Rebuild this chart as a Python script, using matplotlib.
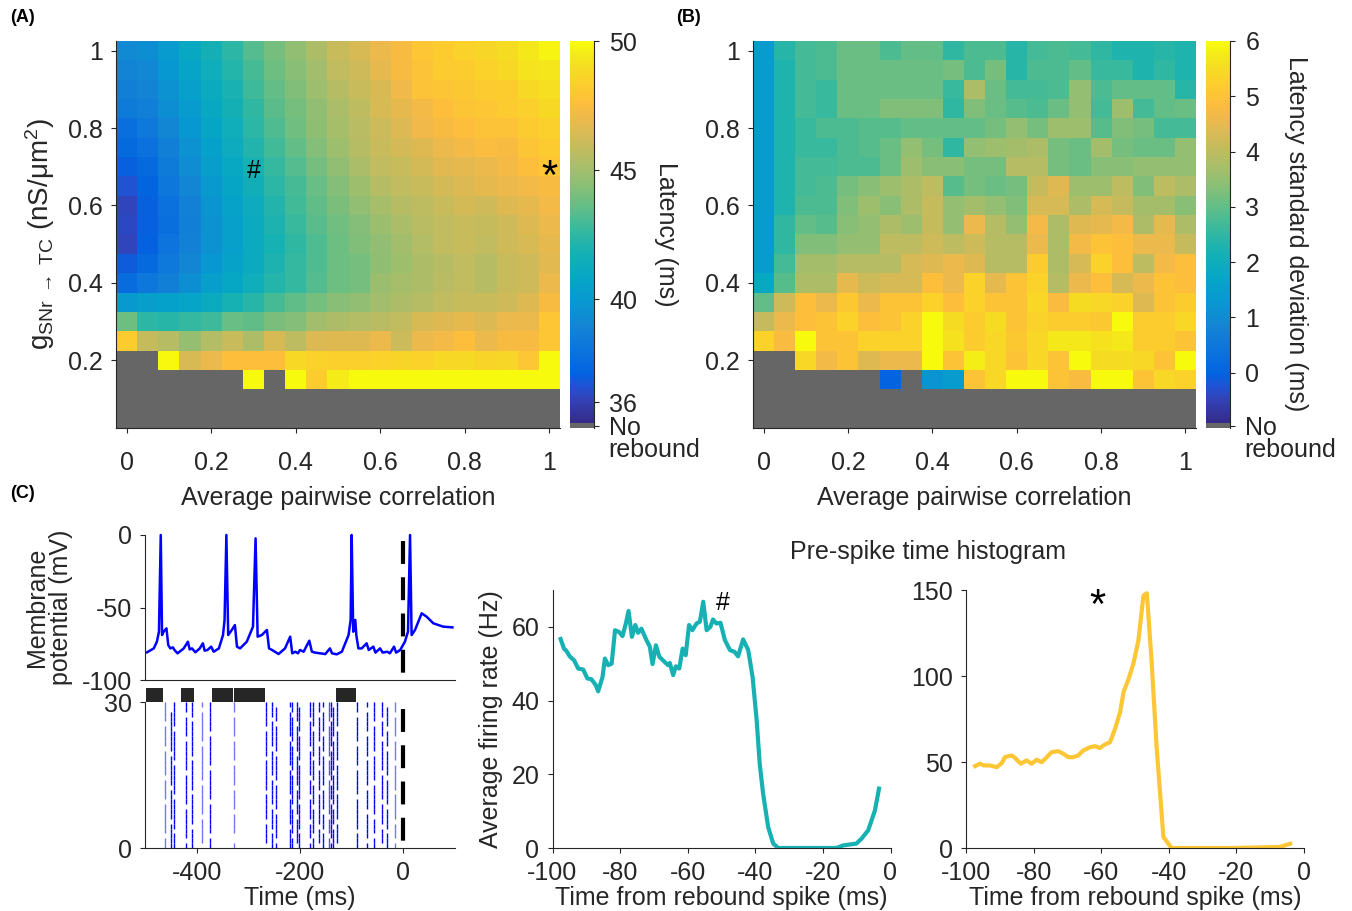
import numpy as np
import matplotlib
matplotlib.use("Agg")
import matplotlib.pyplot as plt
from matplotlib.colors import LinearSegmentedColormap, ListedColormap, Normalize

# --- Style ---
plt.rcParams['font.family'] = ['Liberation Sans', 'DejaVu Sans']
plt.rcParams['mathtext.fontset'] = 'custom'
plt.rcParams['mathtext.rm'] = 'Liberation Sans'
plt.rcParams['mathtext.it'] = 'Liberation Sans:italic'
plt.rcParams['mathtext.default'] = 'regular'
plt.rcParams['axes.unicode_minus'] = False
plt.rcParams['font.size'] = 18
INK = '#262626'
for key in ('axes.edgecolor', 'xtick.color', 'ytick.color', 'text.color', 'axes.labelcolor'):
    plt.rcParams[key] = INK
plt.rcParams['axes.linewidth'] = 0.8

nan = np.nan

# --- Parameter grid for the sweeps ---
corr_levels = [0.0, 0.05, 0.1, 0.15, 0.2, 0.25, 0.3, 0.35, 0.4, 0.45, 0.5,
               0.55, 0.6, 0.65, 0.7, 0.75, 0.8, 0.85, 0.9, 0.95, 1.0]
# rows listed from the strongest conductance down
g_levels = [1.0, 0.95, 0.9, 0.85, 0.8, 0.75, 0.7, 0.65, 0.6, 0.55, 0.5,
            0.45, 0.4, 0.35, 0.3, 0.25, 0.2, 0.15, 0.1, 0.05]

# mean rebound latency (ms), nan = no rebound
latency_ms = [
    [39.2, 39.4, 40.2, 41.0, 41.7, 42.4, 43.3, 44.0, 44.6, 45.3, 46.0, 46.4, 47.0, 47.4, 48.0, 48.3, 48.5, 48.7, 49.0, 49.4, 49.8],
    [38.9, 39.1, 39.9, 40.7, 41.5, 42.2, 43.0, 43.8, 44.4, 45.0, 45.8, 46.2, 46.8, 47.4, 47.8, 48.2, 48.3, 48.5, 48.8, 49.2, 49.3],
    [38.7, 38.9, 39.6, 40.4, 41.2, 41.9, 42.8, 43.6, 44.2, 44.9, 45.5, 46.0, 46.4, 47.1, 47.8, 47.9, 48.1, 48.2, 48.3, 48.8, 49.1],
    [38.4, 38.6, 39.4, 40.2, 41.0, 41.7, 42.5, 43.4, 44.0, 44.6, 45.2, 45.7, 46.4, 46.8, 47.2, 47.6, 47.9, 48.0, 48.2, 48.4, 48.8],
    [37.8, 38.3, 39.0, 39.9, 40.8, 41.5, 42.4, 43.2, 43.9, 44.5, 45.1, 45.6, 46.1, 46.5, 47.1, 47.4, 47.6, 47.8, 47.8, 48.2, 48.4],
    [37.5, 37.9, 38.7, 39.6, 40.5, 41.3, 42.1, 42.9, 43.6, 44.3, 44.9, 45.5, 46.0, 46.3, 46.6, 47.0, 47.3, 47.5, 47.4, 47.9, 48.2],
    [37.0, 37.5, 38.4, 39.3, 40.3, 41.0, 41.8, 42.6, 43.3, 44.0, 44.6, 45.2, 45.8, 46.0, 46.3, 46.7, 46.8, 47.0, 47.3, 47.6, 48.0],
    [36.6, 37.2, 38.2, 39.0, 40.0, 40.8, 41.6, 42.4, 43.0, 43.7, 44.3, 44.9, 45.5, 45.8, 46.0, 46.3, 46.5, 46.8, 47.0, 47.2, 47.4],
    [36.2, 37.0, 37.9, 38.8, 39.8, 40.6, 41.3, 42.1, 42.9, 43.5, 44.1, 44.6, 45.1, 45.5, 45.7, 46.0, 46.3, 46.2, 46.6, 46.8, 47.2],
    [36.3, 37.0, 37.8, 38.7, 39.6, 40.4, 41.2, 42.0, 42.7, 43.4, 43.9, 44.3, 44.8, 45.2, 45.6, 45.8, 46.0, 45.9, 46.2, 46.6, 47.0],
    [36.2, 37.1, 38.0, 38.8, 39.6, 40.4, 41.2, 41.8, 42.5, 43.2, 43.8, 44.2, 44.6, 45.0, 45.4, 45.8, 46.0, 45.8, 46.2, 46.4, 46.8],
    [36.9, 37.5, 38.3, 39.0, 39.9, 40.6, 41.2, 42.0, 42.6, 43.2, 43.8, 44.0, 44.5, 44.9, 45.3, 45.5, 45.8, 45.5, 46.0, 46.2, 46.7],
    [37.6, 38.2, 38.7, 39.4, 40.3, 40.9, 41.5, 42.2, 42.6, 43.3, 43.8, 44.0, 44.8, 45.1, 45.3, 45.6, 45.8, 45.5, 46.0, 46.2, 47.0],
    [40.0, 40.3, 40.5, 40.7, 41.2, 41.8, 42.3, 43.0, 43.5, 44.0, 44.4, 44.6, 45.0, 45.3, 45.5, 45.8, 46.0, 46.0, 46.2, 46.6, 47.4],
    [43.8, 42.4, 42.3, 42.6, 42.8, 43.7, 43.5, 44.1, 44.3, 45.0, 45.3, 45.4, 45.6, 45.8, 46.4, 46.6, 46.8, 46.5, 47.0, 47.0, 48.0],
    [48.3, 45.9, 45.5, 44.7, 45.4, 46.0, 45.3, 46.4, 45.7, 46.5, 46.6, 46.6, 47.0, 46.1, 47.0, 47.2, 47.7, 47.0, 47.4, 47.4, 48.0],
    [nan, nan, 49.9, 46.4, 47.0, 47.7, 47.7, 47.7, 48.8, 48.5, 48.4, 48.4, 48.5, 48.6, 48.5, 48.8, 48.8, 48.6, 48.7, 48.0, 50.0],
    [nan, nan, nan, nan, nan, nan, 50.0, nan, 50.0, 48.3, 49.5, 50.0, 50.0, 50.0, 50.0, 50.0, 50.0, 50.0, 50.0, 50.0, 50.0],
    [nan] * 21,
    [nan] * 21,
]

# standard deviation of the latency (ms), nan = no rebound
latency_sd_ms = [
    [1.4, 2.4, 2.7, 2.8, 3.1, 3.1, 2.8, 3.0, 3.0, 2.5, 2.8, 2.8, 2.4, 2.7, 2.8, 2.7, 2.5, 2.3, 2.3, 2.4, 2.3],
    [1.4, 2.3, 2.7, 2.8, 3.1, 3.1, 3.1, 3.1, 3.1, 3.2, 2.8, 3.2, 2.4, 2.8, 2.8, 3.0, 2.6, 2.6, 2.3, 2.5, 2.3],
    [1.4, 2.3, 2.7, 2.6, 3.1, 3.1, 3.1, 3.1, 3.1, 2.6, 3.8, 3.1, 2.7, 2.7, 2.8, 3.5, 2.8, 3.0, 3.0, 3.0, 2.4],
    [1.4, 2.3, 2.7, 2.6, 3.1, 3.1, 3.3, 3.3, 3.3, 2.5, 3.3, 3.1, 2.9, 2.8, 3.1, 3.5, 2.7, 3.6, 2.7, 3.0, 3.1],
    [1.4, 2.3, 2.6, 2.8, 2.8, 2.9, 2.9, 3.0, 3.0, 3.0, 3.0, 3.2, 3.5, 3.2, 3.6, 3.6, 2.9, 3.3, 3.2, 2.7, 2.7],
    [1.4, 2.3, 2.6, 2.6, 2.8, 2.9, 3.1, 3.5, 3.2, 2.5, 3.5, 3.6, 3.7, 3.8, 3.2, 3.1, 3.7, 3.2, 3.1, 3.1, 3.5],
    [1.4, 2.3, 2.7, 2.7, 2.8, 2.8, 3.1, 3.6, 3.4, 3.4, 3.2, 3.2, 3.9, 3.9, 3.2, 3.1, 3.4, 3.4, 3.5, 3.5, 3.5],
    [1.4, 2.3, 2.7, 2.8, 3.2, 3.4, 3.6, 3.8, 4.0, 2.9, 3.2, 3.1, 3.2, 4.1, 4.4, 3.6, 3.6, 4.0, 3.3, 4.0, 3.8],
    [1.4, 2.3, 2.8, 2.8, 3.3, 3.6, 3.4, 3.8, 4.1, 3.5, 3.7, 3.5, 3.3, 4.3, 4.3, 3.8, 4.3, 4.1, 3.7, 3.7, 3.4],
    [1.4, 2.5, 3.0, 2.9, 3.4, 3.5, 3.8, 3.6, 4.1, 3.5, 4.6, 3.9, 3.5, 4.7, 3.8, 4.4, 4.5, 4.7, 3.8, 4.5, 3.8],
    [1.4, 2.5, 3.3, 3.3, 3.5, 3.5, 4.0, 4.0, 4.2, 4.0, 4.2, 3.9, 3.9, 4.6, 3.8, 4.7, 5.0, 4.9, 4.6, 4.6, 4.1],
    [1.4, 2.7, 3.7, 3.7, 3.9, 3.9, 3.9, 4.3, 4.4, 4.6, 4.4, 3.9, 3.9, 5.2, 3.8, 4.3, 5.3, 4.9, 4.0, 4.7, 4.9],
    [1.8, 2.9, 3.8, 3.8, 4.5, 4.2, 4.3, 4.3, 4.9, 4.6, 5.3, 4.5, 5.0, 5.3, 3.9, 4.6, 4.9, 4.3, 4.6, 5.0, 4.9],
    [3.0, 4.2, 4.9, 4.6, 5.1, 4.6, 5.0, 5.0, 5.3, 4.9, 5.3, 5.0, 5.0, 5.4, 4.8, 5.5, 5.4, 5.3, 4.4, 5.0, 5.2],
    [4.1, 4.6, 4.9, 5.0, 5.3, 4.9, 5.0, 5.3, 6.0, 5.5, 5.2, 5.5, 5.0, 5.3, 5.2, 5.2, 5.1, 6.0, 5.2, 5.2, 5.4],
    [5.3, 4.8, 6.0, 5.0, 5.0, 5.3, 5.3, 5.3, 6.0, 5.6, 5.2, 5.4, 5.1, 5.4, 5.7, 5.7, 5.6, 5.7, 5.2, 5.2, 5.0],
    [nan, nan, 5.4, 4.7, 5.0, 4.4, 4.6, 4.6, 6.0, 5.0, 5.8, 5.4, 5.0, 5.4, 5.0, 6.0, 5.5, 5.5, 5.4, 5.0, 6.0],
    [nan, nan, nan, nan, nan, nan, 0.0, nan, 1.2, 1.4, 5.0, 5.4, 6.0, 6.0, 5.0, 4.8, 6.0, 6.0, 5.0, 5.4, 5.3],
    [nan] * 21,
    [nan] * 21,
]

latency_lim = (35, 50)
latency_ticks = [36, 40, 45, 50]
sd_lim = (-1, 6)
sd_ticks = [0, 1, 2, 3, 4, 5, 6]

# example cells marked on the map
hash_cell = (0.3, 0.7)
star_cell = (1.0, 0.7)

# --- Example TC membrane potential (ms, mV) ---
vm_t = [-496, -483, -477, -473, -469.5, -467, -464, -458.5, -455, -451, -446, -443, -437,
        -425, -417, -413.5, -409, -402.5, -394, -388, -384.5, -379, -372, -367, -357,
        -349, -346, -342.5, -339, -332, -326, -322, -316, -303, -291, -286, -282, -274,
        -264, -260, -254, -241.5, -229, -219, -215, -209, -204, -200, -193, -182, -177,
        -171, -161, -151, -142, -138, -129, -119, -106, -102, -100, -97, -93, -91, -87,
        -80.5, -71, -67, -58, -54, -45, -40, -31, -26, -18, -14, -6, 3, 9, 13, 16, 22.6,
        35.5, 45, 58, 77, 95]
vm_mv = [-80.9, -78.2, -73.6, -66.7, 0.0, -69.0, -66.7, -64.4, -75.9, -78.2, -77.5, -79.3, -81.6,
         -78.2, -73.6, -78.9, -78.2, -80.9, -78.2, -74.7, -79.8, -79.3, -77.0, -80.5, -78.2,
         -69.0, -58.6, 0.0, -69.0, -65.5, -62.1, -77.0, -78.2, -73.6, -63.2, -2.3, -70.1, -69.0,
         -65.5, -78.2, -79.3, -82.1, -78.2, -70.1, -81.6, -80.5, -81.6, -79.3, -80.5, -72.9, -80.5,
         -81.1, -81.6, -82.1, -78.2, -81.6, -82.3, -80.5, -69.0, -58.6, 0.0, -66.7, -58.6, -69.0, -78.2,
         -78.2, -74.7, -79.3, -77.0, -81.1, -78.2, -81.1, -80.5, -81.6, -77.0, -81.1, -79.3, -73.6, -66.7,
         0.0, -69.0, -65.5, -54.0, -56.3, -60.9, -63.2, -63.7]

# --- SNr raster: spike times (ms) and the neurons (0-29) silent at each ---
spike_times = [-462, -449, -443, -420, -409, -390, -374, -328, -265, -254, -247, -219, -216,
               -206, -202, -180, -174, -164, -156, -143, -140, -136, -129, -90, -71, -57,
               -42, -32, -16]
silent_rows = [[2, 9, 14, 20, 25], [5, 12, 19, 28, 29], [3, 10, 17, 24], [1, 8, 15, 22, 27],
               [4, 11, 18, 26], [0, 6, 13, 21, 28], [2, 9, 16, 23], [1, 2, 7, 12, 17, 22, 27],
               [0, 5, 11, 18, 24], [3, 8, 14, 20, 26], [1, 7, 13, 19, 25, 29], [4, 10, 16, 22, 28],
               [2, 8, 15, 21, 27], [0, 6, 12, 19, 25], [3, 9, 17, 23, 29], [1, 5, 10, 14, 20, 26],
               [2, 8, 13, 18, 24], [0, 4, 11, 16, 21, 27], [3, 7, 12, 19, 23, 28], [2, 6, 14, 18, 25],
               [1, 9, 13, 20, 26], [4, 8, 15, 22, 29], [0, 5, 11, 17, 24], [3, 10, 16, 21, 27],
               [1, 7, 12, 18, 23, 28], [2, 6, 13, 19, 25], [0, 4, 9, 15, 22, 26],
               [3, 8, 14, 20, 24, 29], [1, 5, 11, 17, 22, 27]]
spike_alpha = [0.55, 1, 1, 1, 1, 0.55, 1, 0.55, 1, 1, 1, 1, 1, 1, 1, 1, 1, 1, 1, 0.7, 1, 1, 1,
               1, 1, 1, 1, 1, 0.55]
n_neurons = 30

# periods marked above the raster (ms)
bar_start = [-499, -430, -371, -327, -131]
bar_end = [-465, -405, -330, -267, -92]

# --- Pre-spike time histograms (ms before rebound, Hz) ---
hist_hash_t = [-97.6, -96.6, -95.9, -94.9, -93.6, -92.4, -90.9, -89.7, -88.5, -87.2, -86.5,
               -85.2, -84.5, -83.5, -82.5, -81.5, -80.3, -79.3, -78.3, -77.5, -76.5, -75.5,
               -74.7, -73.7, -72.2, -71.2, -70.4, -69.4, -68.4, -67.3, -65.8, -65.3, -64.3,
               -63.5, -62.5, -61.5, -60.6, -59.6, -58.6, -57.4, -56.4, -55.4, -54.4, -53.3,
               -52.5, -51.5, -50.3, -49.0, -47.5, -46.1, -45.1, -43.6, -42.1, -40.8, -39.6,
               -38.7, -37.7, -36.2, -34.7, -33.2, -25.8, -16.0, -14.0, -10.1, -8.6, -6.6,
               -4.6, -3.4]
hist_hash_hz = [56.7, 54.1, 53.5, 52.0, 50.9, 48.7, 48.4, 46.0, 45.8, 44.2, 42.5,
                46.4, 51.4, 49.6, 50.0, 59.1, 58.6, 57.5, 60.9, 64.3, 57.3, 60.5,
                58.4, 59.5, 56.4, 54.6, 49.9, 55.0, 51.9, 50.9, 49.6, 50.2, 46.9,
                49.3, 48.7, 54.1, 52.3, 60.5, 59.1, 60.9, 61.4, 66.8, 59.1, 60.0,
                62.0, 60.9, 61.1, 56.4, 53.7, 53.2, 52.0, 56.6, 53.7, 46.4, 34.7,
                22.9, 14.8, 5.7, 1.2, 0.0, 0.0, 0.0, 0.7, 1.2, 2.5, 4.8,
                10.2, 16.1]

hist_star_t = [-97.3, -95.9, -94.7, -92.9, -90.9, -89.4, -88.5, -86.5, -85.5, -83.8, -82.1,
               -80.6, -79.1, -77.6, -76.1, -74.7, -72.7, -71.2, -69.7, -68.2, -66.8, -65.3,
               -63.3, -61.8, -60.4, -58.9, -57.4, -55.9, -54.4, -53.4, -51.9, -50.5, -49.0,
               -47.5, -46.5, -45.1, -43.6, -41.6, -39.2, -20.9, -7.1, -4.1]
hist_star_hz = [47.6, 49.0, 48.0, 48.0, 47.0, 49.4, 52.8, 53.8, 52.4, 49.0, 50.9,
                49.0, 51.3, 49.9, 52.8, 55.7, 56.3, 54.8, 52.8, 52.8, 53.8, 56.7,
                58.6, 59.2, 58.1, 60.2, 61.5, 69.3, 79.0, 90.6, 98.3, 107.0, 120.6,
                146.7, 148.1, 109.0, 58.6, 6.4, 0.0, 0.0, 0.6, 2.5]


# --- Colormaps: parula with a grey slot for "no rebound" ---
parula_idx = [0, 4, 6, 8, 12, 16, 20, 24, 28, 32, 36, 40, 44, 48, 51, 53, 56, 59, 61, 63]
parula_rgb = [(0.2081, 0.1663, 0.5292), (0.1959, 0.2645, 0.7279), (0.1253, 0.3242, 0.8303),
              (0.0117, 0.3875, 0.8820), (0.0498, 0.4586, 0.8641), (0.0793, 0.5200, 0.8312),
              (0.0343, 0.5966, 0.8199), (0.0228, 0.6535, 0.7768), (0.0843, 0.6928, 0.7062),
              (0.2178, 0.7250, 0.6193), (0.3953, 0.7459, 0.5244), (0.5709, 0.7485, 0.4494),
              (0.7184, 0.7411, 0.3905), (0.8507, 0.7299, 0.3360), (0.9450, 0.7261, 0.2886),
              (0.9938, 0.7455, 0.2403), (0.9880, 0.8066, 0.1794), (0.9626, 0.8705, 0.1309),
              (0.9598, 0.9218, 0.0948), (0.9763, 0.9831, 0.0538)]
parula = LinearSegmentedColormap.from_list(
    'parula', [(i / 63, c) for i, c in zip(parula_idx, parula_rgb)], N=256)

N_COL, N_GREY = 256, 3
NO_REBOUND_GREY = (0.4, 0.4, 0.4, 1.0)
cmap_map = ListedColormap(np.vstack([np.tile(NO_REBOUND_GREY, (N_GREY, 1)),
                                     parula(np.linspace(0, 1, N_COL - N_GREY))]))


def style(ax, xpad=5.5, ypad=6):
    ax.spines['top'].set_visible(False)
    ax.spines['right'].set_visible(False)
    ax.tick_params(direction='out', length=3.5, width=0.8, labelsize=18)
    ax.tick_params(axis='x', pad=xpad)
    ax.tick_params(axis='y', pad=ypad)


def heatmap(ax, cax, values, lim, ticks):
    vals = np.array(values, dtype=float)
    vals = np.where(np.isnan(vals), lim[0], vals)  # no rebound -> grey slot
    dc = (corr_levels[1] - corr_levels[0]) / 2
    dg = (g_levels[0] - g_levels[1]) / 2
    im = ax.imshow(vals, cmap=cmap_map, vmin=lim[0], vmax=lim[1], origin='upper',
                   extent=[corr_levels[0] - dc, corr_levels[-1] + dc,
                           g_levels[-1] - dg, g_levels[0] + dg],
                   aspect='auto', interpolation='nearest')
    style(ax, xpad=13)
    ax.set_xticks([0, 0.2, 0.4, 0.6, 0.8, 1.0])
    ax.set_xticklabels(['0', '0.2', '0.4', '0.6', '0.8', '1'])
    ax.set_yticks([0.2, 0.4, 0.6, 0.8, 1.0])
    ax.set_yticklabels(['0.2', '0.4', '0.6', '0.8', '1'])
    ax.set_xlabel('Average pairwise correlation', labelpad=8)

    cb = plt.colorbar(im, cax=cax)
    cb.outline.set_visible(False)
    grey_pos = lim[0] + (N_GREY / 2) / N_COL * (lim[1] - lim[0])
    cb.set_ticks([grey_pos] + ticks)
    cb.set_ticklabels(['No'] + [str(t) for t in ticks])
    cax.tick_params(direction='out', length=3.5, width=0.8, pad=7.5, labelsize=18)
    cax.plot([1, 1], [0, 1], transform=cax.transAxes, color=INK, lw=0.8, clip_on=False)
    cax.annotate('rebound', xy=(1, grey_pos), xycoords=('axes fraction', 'data'),
                 xytext=(10.5, -17.5), textcoords='offset points', ha='left', va='center')
    return im


fig = plt.figure(figsize=(13.52, 9.11), dpi=100)
W, H = 1352, 911


def px_axes(left, top, right, bottom):
    return fig.add_axes([left / W, 1 - bottom / H, (right - left) / W, (bottom - top) / H])


# --- (A) latency map ---
axA = px_axes(116, 41, 560, 428)
caxA = px_axes(570, 41, 594, 428)
heatmap(axA, caxA, latency_ms, latency_lim, latency_ticks)
axA.set_ylabel('g$_{SNr\\ \\rightarrow\\ TC}$ (nS/\u03bcm$^{2}$)', labelpad=8, fontsize=20)
fig.text(666 / W, 1 - 234 / H, 'Latency (ms)', rotation=270, ha='center', va='center')
axA.text(hash_cell[0], hash_cell[1] - 0.012, '#', ha='center', va='center', fontsize=18, color='k')
axA.text(star_cell[0], star_cell[1] - 0.03, '*', ha='center', va='center', fontsize=30, color='k')

# --- (B) latency variability map ---
axB = px_axes(753, 41, 1196, 428)
caxB = px_axes(1206, 41, 1230, 428)
heatmap(axB, caxB, latency_sd_ms, sd_lim, sd_ticks)
fig.text(1296 / W, 1 - 234 / H, 'Latency standard deviation (ms)', rotation=270,
         ha='center', va='center')

# colours of the two marked cells, reused for their histograms
norm_lat = Normalize(*latency_lim)
lat_arr = np.array(latency_ms, dtype=float)
col_hash = cmap_map(norm_lat(lat_arr[g_levels.index(hash_cell[1]), corr_levels.index(hash_cell[0])]))
col_star = cmap_map(norm_lat(lat_arr[g_levels.index(star_cell[1]), corr_levels.index(star_cell[0])]))

# --- (C) membrane potential + raster ---
axV = px_axes(145, 535, 455, 680)
style(axV)
axV.plot(vm_t, vm_mv, color='blue', lw=1.8, solid_joinstyle='round', clip_on=False)
axV.plot([0, 0], [-4, -100], color='k', lw=3, ls=(0, (5.5, 3.2)))
axV.set_xlim(-500, 100)
axV.set_ylim(-100, 0)
axV.set_yticks([-100, -50, 0])
axV.set_xticks([])
axV.set_ylabel('Membrane\npotential (mV)', linespacing=1.0, labelpad=6)

axR = px_axes(145, 702, 455, 848)
style(axR)
for t, silent, a in zip(spike_times, silent_rows, spike_alpha):
    rows = np.array([k for k in range(n_neurons) if k not in silent])
    axR.vlines(np.full(len(rows), t), rows, rows + 1, color='blue', lw=1.0, alpha=a)
axR.bar(bar_start, 2.9, width=np.array(bar_end) - np.array(bar_start), bottom=30,
        align='edge', color=INK, clip_on=False)
axR.plot([0, 0], [28.5, 0], color='k', lw=3, ls=(0, (5.5, 3.2)))
axR.set_xlim(-500, 100)
axR.set_ylim(0, n_neurons)
axR.set_yticks([0, 30])
axR.set_xticks([-400, -200, 0])
axR.set_xlabel('Time (ms)', labelpad=1)

# --- (C) pre-spike time histograms ---
axH1 = px_axes(552.5, 590, 890.5, 848)
style(axH1)
axH1.plot(hist_hash_t, hist_hash_hz, color=col_hash, lw=3, solid_joinstyle='round')
axH1.set_xlim(-100, 0)
axH1.set_ylim(0, 70)
axH1.set_yticks([0, 20, 40, 60])
axH1.set_xticks([-100, -80, -60, -40, -20, 0])
axH1.set_xlabel('Time from rebound spike (ms)', labelpad=1)
axH1.set_ylabel('Average firing rate (Hz)', labelpad=6)
axH1.text(-49.5, 66.5, '#', ha='center', va='center', fontsize=18, color='k')

axH2 = px_axes(966, 590, 1304, 848)
style(axH2)
axH2.plot(hist_star_t, hist_star_hz, color=col_star, lw=3, solid_joinstyle='round')
axH2.set_xlim(-100, 0)
axH2.set_ylim(0, 150)
axH2.set_yticks([0, 50, 100, 150])
axH2.set_xticks([-100, -80, -60, -40, -20, 0])
axH2.set_xlabel('Time from rebound spike (ms)', labelpad=1)
axH2.text(-61, 140, '*', ha='center', va='center', fontsize=30, color='k')

fig.text(928 / W, 1 - 552 / H, 'Pre-spike time histogram', ha='center', va='center')

# panel letters
for lbl, x, y in [('(A)', 10, 18), ('(B)', 676, 18), ('(C)', 10, 493)]:
    fig.text(x / W, 1 - y / H, lbl, fontsize=13, fontweight='bold', color='k',
             ha='left', va='center')

fig.savefig('out.png', dpi=100)
